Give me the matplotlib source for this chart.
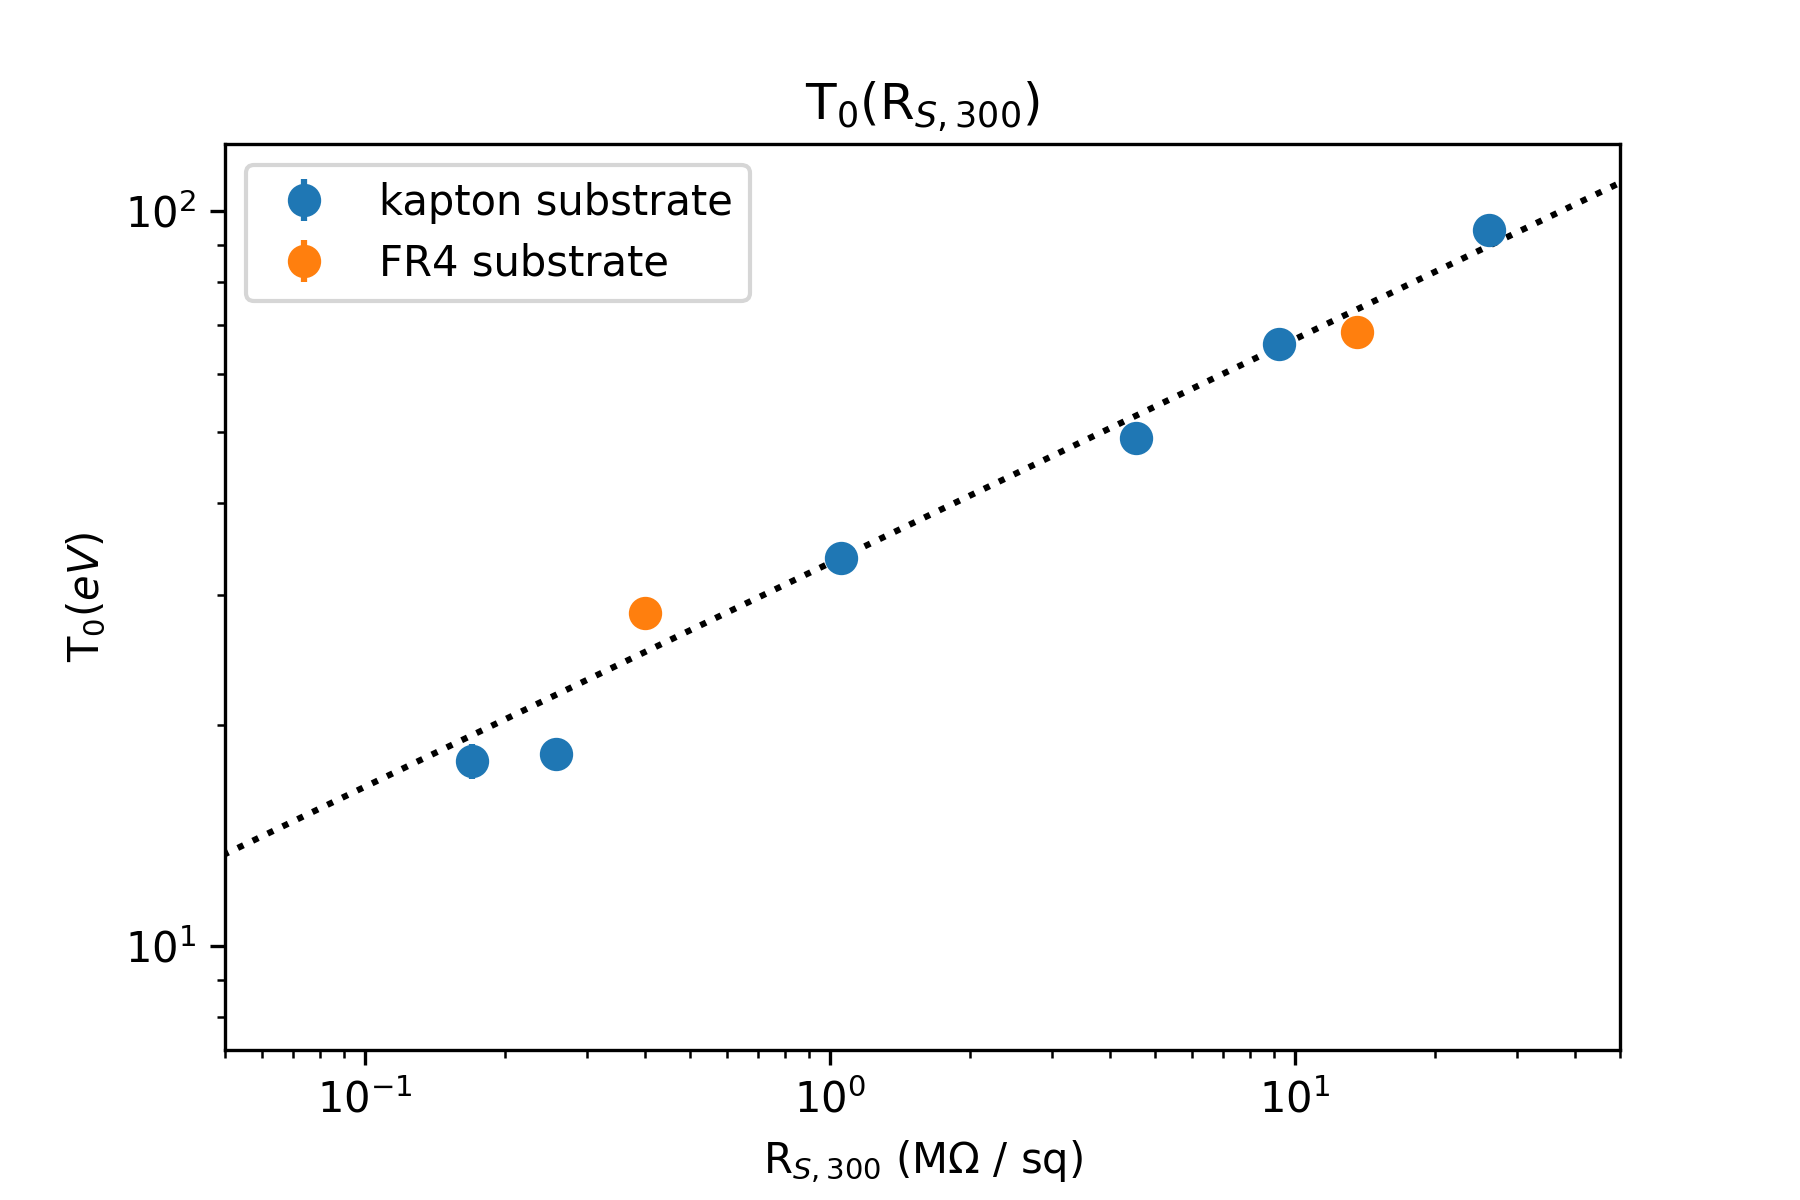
import numpy as np
import matplotlib
matplotlib.use("Agg")
import matplotlib.pyplot as plt

# sheet resistance at 300 K (MOhm/sq) and fitted T0 (eV)
kapton_rs = [0.170, 0.258, 1.057, 4.54, 9.25, 26.1]
kapton_t0 = [17.85, 18.23, 33.7, 49.1, 65.9, 94.1]
kapton_err = [0.97, 0.0, 0.0, 0.0, 0.0, 0.0]

fr4_rs = [0.401, 13.6]
fr4_t0 = [28.4, 68.4]
fr4_err = [0.0, 0.0]

# power-law fit line endpoints
fit_rs = [0.01, 50]
fit_t0 = [8.17, 109.2]

fig, ax = plt.subplots(figsize=(6, 4), dpi=300)
fig.subplots_adjust(left=0.125, right=0.9, top=0.88, bottom=0.125)

ax.errorbar(kapton_rs, kapton_t0, yerr=kapton_err, fmt='o', markersize=7,
            label='kapton substrate')
ax.errorbar(fr4_rs, fr4_t0, yerr=fr4_err, fmt='o', markersize=7,
            label='FR4 substrate')
ax.plot(fit_rs, fit_t0, 'k:')

ax.set_xscale('log')
ax.set_yscale('log')
ax.set_xlim(0.05, 50)
ax.set_ylim(7.22, 123.3)

ax.set_title(r'T$_0$(R$_{S,300}$)')
ax.set_xlabel(r'R$_{S,300}$ (M$\Omega$ / sq)')
ax.set_ylabel(r'T$_0$($eV$)')
ax.legend(loc='upper left', labelspacing=0.45)

fig.savefig('out.png', dpi=300)
